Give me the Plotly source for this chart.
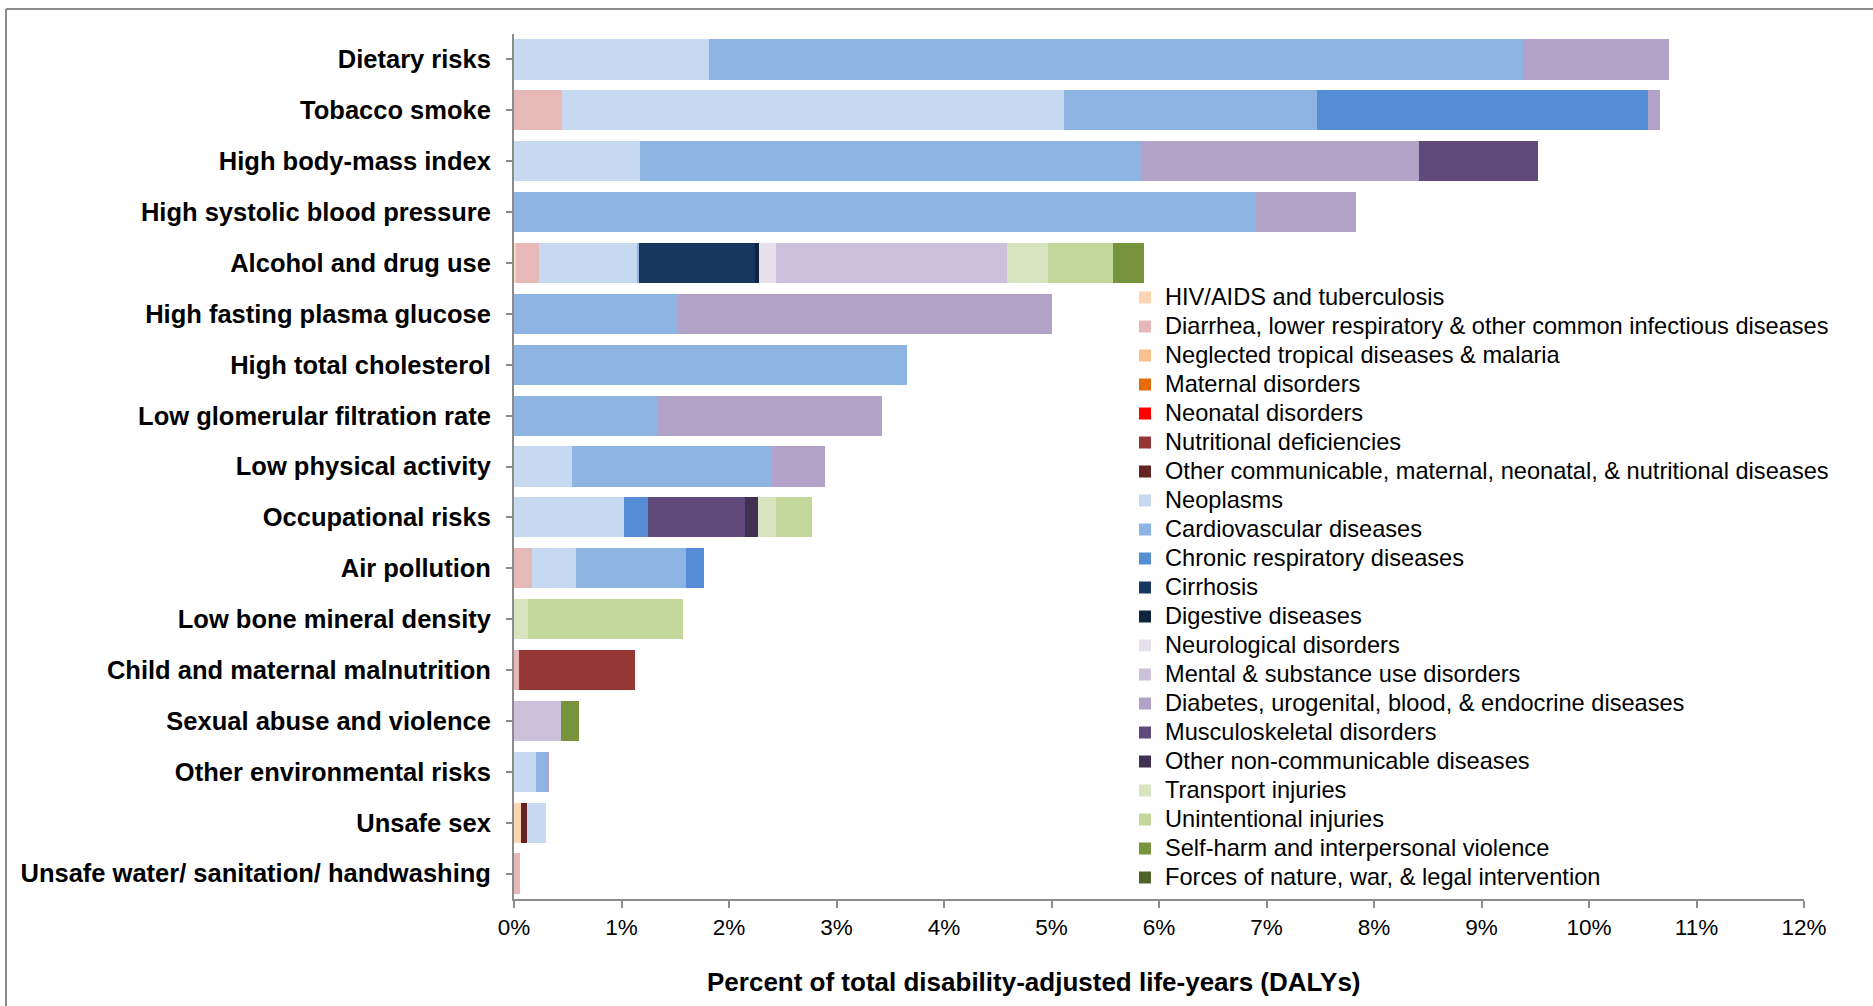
import plotly.graph_objects as go

W, H = 1873, 1006

risks = [
    "Dietary risks", "Tobacco smoke", "High body-mass index",
    "High systolic blood pressure", "Alcohol and drug use",
    "High fasting plasma glucose", "High total cholesterol",
    "Low glomerular filtration rate", "Low physical activity",
    "Occupational risks", "Air pollution", "Low bone mineral density",
    "Child and maternal malnutrition", "Sexual abuse and violence",
    "Other environmental risks", "Unsafe sex",
    "Unsafe water/ sanitation/ handwashing",
]

#                 Diet  Tob   BMI   SBP   Alc   FPG   Chol  GFR   LPA   Occ   Air   Bone  Malnu Sex   Env   USex  Water
hiv_tb        = [0,    0,    0,    0,    0.02, 0,    0,    0,    0,    0,    0,    0,    0,    0,    0,    0.065, 0]
diarrhea_lri  = [0,    0.45, 0,    0,    0.21, 0,    0,    0,    0,    0,    0.17, 0,    0.05, 0,    0,    0,    0.053]
ntd_malaria   = [0,    0,    0,    0,    0,    0,    0,    0,    0,    0,    0,    0,    0,    0,    0,    0,    0]
maternal      = [0,    0,    0,    0,    0,    0,    0,    0,    0,    0,    0,    0,    0,    0,    0,    0,    0]
neonatal      = [0,    0,    0,    0,    0,    0,    0,    0,    0,    0,    0,    0,    0,    0,    0,    0,    0]
nutritional   = [0,    0,    0,    0,    0,    0,    0,    0,    0,    0,    0,    0,    1.08, 0,    0,    0,    0]
other_comm    = [0,    0,    0,    0,    0,    0,    0,    0,    0,    0,    0,    0,    0,    0,    0,    0.055, 0]
neoplasms     = [1.81, 4.67, 1.17, 0,    0.91, 0,    0,    0,    0.54, 1.02, 0.41, 0,    0,    0,    0.20, 0.18, 0]
cardiovasc    = [7.58, 2.35, 4.66, 6.90, 0.02, 1.52, 3.66, 1.33, 1.86, 0,    1.02, 0,    0,    0,    0.11, 0,    0]
chronic_resp  = [0,    3.08, 0,    0,    0,    0,    0,    0,    0,    0.23, 0.17, 0,    0,    0,    0,    0,    0]
cirrhosis     = [0,    0,    0,    0,    1.08, 0,    0,    0,    0,    0,    0,    0,    0,    0,    0,    0,    0]
digestive     = [0,    0,    0,    0,    0.04, 0,    0,    0,    0,    0,    0,    0,    0,    0,    0,    0,    0]
neurological  = [0,    0,    0,    0,    0.16, 0,    0,    0,    0,    0,    0,    0,    0,    0,    0,    0,    0]
mental        = [0,    0,    0,    0,    2.15, 0,    0,    0,    0,    0,    0,    0,    0,    0.44, 0,    0,    0]
diabetes      = [1.35, 0.11, 2.59, 0.93, 0,    3.48, 0,    2.09, 0.49, 0,    0,    0,    0,    0,    0.015, 0,   0]
musculo       = [0,    0,    1.11, 0,    0,    0,    0,    0,    0,    0.90, 0,    0,    0,    0,    0,    0,    0]
other_ncd     = [0,    0,    0,    0,    0,    0,    0,    0,    0,    0.12, 0,    0,    0,    0,    0,    0,    0]
transport     = [0,    0,    0,    0,    0.38, 0,    0,    0,    0,    0.17, 0,    0.13, 0,    0,    0,    0,    0]
unintentional = [0,    0,    0,    0,    0.60, 0,    0,    0,    0,    0.33, 0,    1.44, 0,    0,    0,    0,    0]
self_harm     = [0,    0,    0,    0,    0.29, 0,    0,    0,    0,    0,    0,    0,    0,    0.16, 0,    0,    0]
forces_nature = [0,    0,    0,    0,    0,    0,    0,    0,    0,    0,    0,    0,    0,    0,    0,    0,    0]

cause_names = [
    "HIV/AIDS and tuberculosis",
    "Diarrhea, lower respiratory & other common infectious diseases",
    "Neglected tropical diseases & malaria",
    "Maternal disorders",
    "Neonatal disorders",
    "Nutritional deficiencies",
    "Other communicable, maternal, neonatal, & nutritional diseases",
    "Neoplasms",
    "Cardiovascular diseases",
    "Chronic respiratory diseases",
    "Cirrhosis",
    "Digestive diseases",
    "Neurological disorders",
    "Mental & substance use disorders",
    "Diabetes, urogenital, blood, & endocrine diseases",
    "Musculoskeletal disorders",
    "Other non-communicable diseases",
    "Transport injuries",
    "Unintentional injuries",
    "Self-harm and interpersonal violence",
    "Forces of nature, war, & legal intervention",
]
cause_values = [hiv_tb, diarrhea_lri, ntd_malaria, maternal, neonatal, nutritional,
                other_comm, neoplasms, cardiovasc, chronic_resp, cirrhosis, digestive,
                neurological, mental, diabetes, musculo, other_ncd, transport,
                unintentional, self_harm, forces_nature]
cause_colors = ["#FCD5B5", "#E6B9B8", "#FAC090", "#E46C0A", "#FF0000", "#953735",
                "#632523", "#C6D9F1", "#8EB4E3", "#558ED5", "#17375E", "#10243E",
                "#E6E0EC", "#CCC1DA", "#B3A2C7", "#604A7B", "#403152", "#D7E4BD",
                "#C3D69B", "#77933C", "#4F6228"]

x_ticks = list(range(0, 13))
x_tick_labels = [f"{t}%" for t in x_ticks]
x_title = "Percent of total disability-adjusted life-years (DALYs)"

FONT = "Arial, Liberation Sans, sans-serif"
GRAY = "#8C8C8C"
LEG_TEXT_PX = 23.6

fig = go.Figure()
for name, vals, col in zip(cause_names, cause_values, cause_colors):
    fig.add_trace(go.Bar(
        y=risks, x=vals, orientation="h",
        name=f'<span style="font-size:{LEG_TEXT_PX}px">{name}</span>',
        marker=dict(color=col, line=dict(width=0)),
    ))

L, R, T, B = 514, 69, 34, 107
pw, ph = W - L - R, H - T - B

def px_x(px):
    return (px - L) / pw

def px_y(py):
    return (H - B - py) / ph

n = len(risks)
fig.update_layout(
    width=W, height=H,
    margin=dict(l=L, r=R, t=T, b=B, autoexpand=False),
    barmode="stack", bargap=0.21,
    plot_bgcolor="white", paper_bgcolor="white",
    font=dict(family=FONT, color="black"),
    showlegend=True,
    legend=dict(
        x=px_x(1125), y=px_y(278), xanchor="left", yanchor="top",
        font=dict(family=FONT, size=20, color="black"),
        bgcolor="rgba(0,0,0,0)", traceorder="normal",
        itemclick=False,
    ),
    xaxis=dict(
        range=[0, 12], tickvals=x_ticks, ticktext=x_tick_labels,
        showgrid=False, zeroline=False,
        showline=True, linecolor=GRAY, linewidth=2,
        ticks="outside", ticklen=7, tickwidth=1.5, tickcolor=GRAY,
        tickfont=dict(family=FONT, size=22.5, color="black"),
        ticklabelstandoff=0,
        automargin=False,
    ),
    xaxis2=dict(
        range=[0, 12], tickvals=x_ticks, overlaying="x", anchor="y", side="bottom",
        showgrid=False, zeroline=False, showline=False, showticklabels=False,
        ticks="inside", ticklen=7, tickwidth=1.5, tickcolor=GRAY,
    ),
    yaxis=dict(
        range=[n - 0.5, -0.5], showgrid=False, zeroline=False,
        showline=True, linecolor=GRAY, linewidth=2,
        ticks="outside", ticklen=6, tickwidth=1.5, tickcolor=GRAY,
        tickfont=dict(family=FONT, size=25.5, color="black", weight="bold"),
        ticklabelstandoff=10,
        automargin=False,
    ),
    annotations=[
        dict(text=x_title, xref="paper", yref="paper",
             x=px_x(1034), y=px_y(982), xanchor="center", yanchor="middle",
             showarrow=False,
             font=dict(family=FONT, size=26, color="black", weight="bold")),
    ],
    shapes=[
        dict(type="line", xref="paper", yref="paper",
             x0=px_x(6), x1=px_x(W + 2), y0=px_y(9), y1=px_y(9),
             line=dict(color=GRAY, width=2)),
        dict(type="line", xref="paper", yref="paper",
             x0=px_x(6), x1=px_x(6), y0=px_y(9), y1=px_y(H + 2),
             line=dict(color=GRAY, width=2)),
    ],
)

fig.write_html("out.html",
               config={"displayModeBar": False},
               post_script="document.body.style.margin='0';document.body.style.overflow='hidden';")
